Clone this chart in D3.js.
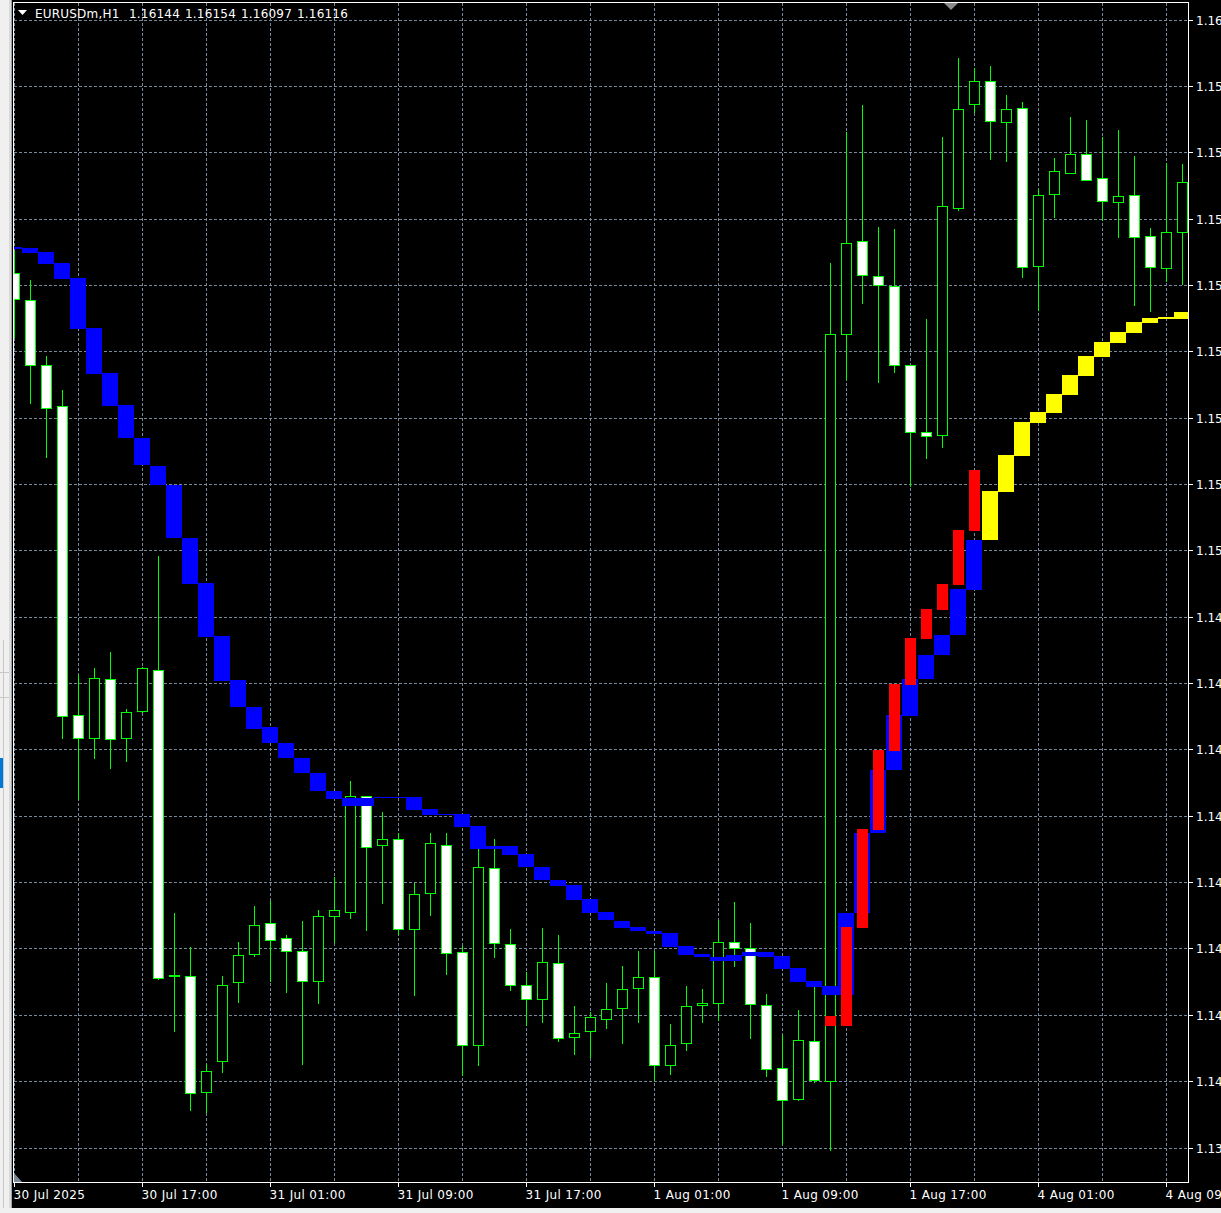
<!DOCTYPE html>
<html><head><meta charset="utf-8">
<script src="https://cdn.jsdelivr.net/npm/d3@7"></script>
<style>
html,body{margin:0;padding:0;background:#000;overflow:hidden;}
svg{display:block;font-family:"DejaVu Sans",sans-serif;}
</style></head><body>
<svg id="c" width="1221" height="1213"></svg>
<script>
// ---- data (EURUSDm, H1) ----
const titleSymbol = "EURUSDm,H1";
const titleQuotes = ["1.16144","1.16154","1.16097","1.16116"];

const open = [1.15522,1.15471,1.15350,1.15271,1.14689,1.14646,1.14757,1.14647,1.14697,1.14774,
1.14200,1.14199,1.13980,1.14038,1.14186,1.14239,1.14297,1.14269,1.14245,1.14188,
1.14311,1.14319,1.14537,1.14444,1.14457,1.14286,1.14354,1.14444,1.14243,1.14068,
1.14401,1.14258,1.14181,1.14154,1.14222,1.14083,1.14094,1.14118,1.14137,1.14175,
1.14196,1.14030,1.14071,1.14143,1.14147,1.14262,1.14251,1.14143,1.14024,1.13966,
1.14076,1.14001,1.15408,1.15583,1.15517,1.15498,1.15349,1.15223,1.15217,1.15645,
1.15840,1.15884,1.15806,1.15833,1.15536,1.15672,1.15711,1.15746,1.15701,1.15657,
1.15669,1.15593,1.15532,1.15600];

const high = [1.15564,1.15509,1.15366,1.15302,1.14766,1.14778,1.14808,1.14701,1.14780,1.14989,
1.14317,1.14253,1.14032,1.14199,1.14262,1.14330,1.14339,1.14275,1.14302,1.14322,
1.14384,1.14565,1.14538,1.14507,1.14467,1.14373,1.14467,1.14467,1.14255,1.14437,
1.14456,1.14287,1.14206,1.14288,1.14275,1.14142,1.14131,1.14185,1.14217,1.14245,
1.14246,1.14108,1.14179,1.14174,1.14304,1.14337,1.14298,1.14164,1.14086,1.14134,
1.14177,1.15542,1.15788,1.15839,1.15609,1.15605,1.15349,1.15436,1.15778,1.15927,
1.15908,1.15912,1.15858,1.15845,1.15680,1.15739,1.15816,1.15811,1.15779,1.15792,
1.15743,1.15607,1.15729,1.15727];

const low = [1.15402,1.15278,1.15176,1.14647,1.14532,1.14609,1.14590,1.14604,1.14696,1.14192,
1.14095,1.13946,1.13942,1.14018,1.14150,1.14236,1.14189,1.14167,1.14032,1.14148,
1.14262,1.14308,1.14285,1.14336,1.14277,1.14162,1.14313,1.14202,1.14012,1.14031,
1.14234,1.14172,1.14106,1.14112,1.14076,1.14052,1.14046,1.14101,1.14072,1.14112,
1.14003,1.14014,1.14059,1.14112,1.14116,1.14216,1.14082,1.14010,1.13881,1.13965,
1.13999,1.13871,1.15322,1.15465,1.15318,1.15336,1.15122,1.15173,1.15194,1.15642,
1.15825,1.15738,1.15734,1.15514,1.15453,1.15628,1.15711,1.15698,1.15622,1.15591,
1.15462,1.15450,1.15508,1.15502];

const close = [1.15473,1.15349,1.15268,1.14687,1.14647,1.14759,1.14644,1.14695,1.14778,1.14195,
1.14198,1.13978,1.14020,1.14182,1.14237,1.14295,1.14265,1.14246,1.14189,1.14312,
1.14322,1.14538,1.14442,1.14456,1.14286,1.14352,1.14448,1.14241,1.14069,1.14403,
1.14260,1.14182,1.14154,1.14224,1.14081,1.14091,1.14120,1.14135,1.14173,1.14197,
1.14030,1.14069,1.14141,1.14147,1.14262,1.14251,1.14145,1.14022,1.13964,1.14077,
1.14002,1.15407,1.15579,1.15518,1.15499,1.15350,1.15222,1.15215,1.15649,1.15831,
1.15884,1.15808,1.15831,1.15534,1.15669,1.15714,1.15747,1.15698,1.15659,1.15667,
1.15591,1.15534,1.15599,1.15693];

// indicator band (wide histogram blocks)
const bandHi = [1.15572,1.15570,1.15562,1.15541,1.15513,1.15419,1.15334,1.15274,1.15212,1.15159,
1.15123,1.15023,1.14938,1.14839,1.14756,1.14705,1.14667,1.14637,1.14609,1.14580,
1.14547,1.14533,1.14533,1.14535,1.14535,1.14535,1.14513,1.14503,1.14503,1.14481,
1.14443,1.14443,1.14428,1.14403,1.14379,1.14369,1.14343,1.14319,1.14302,1.14290,
1.14283,1.14279,1.14255,1.14240,1.14234,1.14238,1.14243,1.14243,1.14236,1.14213,
1.14189,1.14179,1.14317,1.14467,1.14586,1.14690,1.14758,1.14803,1.14840,1.14927,
1.15019,1.15112,1.15180,1.15242,1.15261,1.15294,1.15330,1.15366,1.15392,1.15411,
1.15430,1.15438,1.15439,1.15449];
const bandLo = [1.15567,1.15560,1.15540,1.15511,1.15417,1.15333,1.15272,1.15212,1.15161,1.15123,
1.15023,1.14937,1.14837,1.14754,1.14704,1.14664,1.14637,1.14609,1.14580,1.14546,
1.14532,1.14519,1.14519,1.14533,1.14533,1.14511,1.14501,1.14501,1.14479,1.14437,
1.14437,1.14426,1.14403,1.14379,1.14368,1.14342,1.14317,1.14303,1.14289,1.14282,
1.14277,1.14253,1.14238,1.14233,1.14226,1.14226,1.14236,1.14234,1.14211,1.14187,
1.14178,1.14162,1.14162,1.14317,1.14467,1.14586,1.14688,1.14757,1.14803,1.14840,
1.14926,1.15019,1.15110,1.15178,1.15240,1.15259,1.15293,1.15328,1.15364,1.15391,
1.15409,1.15428,1.15436,1.15436];
const bandTrend = ["dn","dn","dn","dn","dn","dn","dn","dn","dn","dn",
"dn","dn","dn","dn","dn","dn","dn","dn","dn","dn",
"dn","dn","dn","dn","dn","dn","dn","dn","dn","dn",
"dn","dn","dn","dn","dn","dn","dn","dn","dn","dn",
"dn","dn","dn","dn","dn","dn","dn","dn","dn","dn",
"dn","dn","dn","dn","dn","dn","dn","dn","dn","dn",
"dn","up","up","up","up","up","up","up","up","up",
"up","up","up","up"];

// signal blocks (narrow, red)
const sigHi = [null,null,null,null,null,null,null,null,null,null,
null,null,null,null,null,null,null,null,null,null,
null,null,null,null,null,null,null,null,null,null,
null,null,null,null,null,null,null,null,null,null,
null,null,null,null,null,null,null,null,null,null,
null,1.14123,1.14290,1.14475,1.14624,1.14749,1.14835,1.14889,1.14937,1.15038,
1.15152,null,null,null,null,null,null,null,null,null,
null,null,null,null];
const sigLo = [null,null,null,null,null,null,null,null,null,null,
null,null,null,null,null,null,null,null,null,null,
null,null,null,null,null,null,null,null,null,null,
null,null,null,null,null,null,null,null,null,null,
null,null,null,null,null,null,null,null,null,null,
null,1.14103,1.14103,1.14289,1.14473,1.14622,1.14746,1.14833,1.14888,1.14935,
1.15037,null,null,null,null,null,null,null,null,null,
null,null,null,null];

const priceTicks = [1.16000,1.15875,1.15750,1.15625,1.15500,1.15375,1.15250,1.15125,1.15000,
1.14875,1.14750,1.14625,1.14500,1.14375,1.14250,1.14125,1.14000,1.13875];

const timeTickBars = [0,8,16,24,32,40,48,56,64,72];
const timeTickLabels = ["30 Jul 2025","30 Jul 17:00","31 Jul 01:00","31 Jul 09:00","31 Jul 17:00",
"1 Aug 01:00","1 Aug 09:00","1 Aug 17:00","4 Aug 01:00","4 Aug 09:00"];

// ---- drawing ----
const svg = d3.select("#c");
const W = 1221, H = 1213;
const plot = {left:13, right:1188, top:2, bottom:1182};
const N = open.length;

const x = d3.scaleLinear().domain([0, N-1]).range([14, 14 + 16*(N-1)]);
const y = d3.scaleLinear().domain([1.13875, 1.16]).range([1147.5, 19.5]);
const ry = v => Math.round(y(v));

svg.append("defs").append("clipPath").attr("id","plotClip")
  .append("rect").attr("x",plot.left+1).attr("y",plot.top+1)
  .attr("width",plot.right-plot.left-1).attr("height",plot.bottom-plot.top-1);

svg.append("rect").attr("width",W).attr("height",H).attr("fill","#000");

// window chrome (left panel strip and bottom strip)
svg.append("rect").attr("x",0).attr("y",0).attr("width",9).attr("height",H).attr("fill","#f0f0f0");
svg.append("rect").attr("x",9).attr("y",0).attr("width",2).attr("height",H).attr("fill","#dadada");
svg.append("rect").attr("x",11).attr("y",0).attr("width",1).attr("height",H).attr("fill","#a0a0a0");
svg.append("line").attr("x1",3.5).attr("x2",3.5).attr("y1",640).attr("y2",1208).attr("stroke","#c8c8c8");
svg.append("line").attr("x1",0).attr("x2",9).attr("y1",672.5).attr("y2",672.5).attr("stroke","#c8c8c8");
svg.append("line").attr("x1",0).attr("x2",9).attr("y1",697.5).attr("y2",697.5).attr("stroke","#c8c8c8");
svg.append("rect").attr("x",0).attr("y",758).attr("width",3).attr("height",30).attr("fill","#0078d7");
svg.append("rect").attr("x",0).attr("y",1208).attr("width",W).attr("height",5).attr("fill","#f0f0f0");

const g = svg.append("g").attr("shape-rendering","crispEdges");
const gridColor = "#778899";
const pg = g.append("g").attr("clip-path","url(#plotClip)");

// horizontal grid
pg.append("g").selectAll("line").data(priceTicks).join("line")
  .attr("x1",plot.left+1).attr("x2",plot.right)
  .attr("y1",d=>ry(d)+0.5).attr("y2",d=>ry(d)+0.5)
  .attr("stroke",gridColor).attr("stroke-dasharray","3,2");

// vertical grid every 4 bars
const vBars = d3.range(0, N, 4);
pg.append("g").selectAll("line").data(vBars).join("line")
  .attr("x1",d=>x(d)+0.5).attr("x2",d=>x(d)+0.5)
  .attr("y1",plot.top+1).attr("y2",plot.bottom)
  .attr("stroke",gridColor).attr("stroke-dasharray","3,2");

// candles
const idx = d3.range(N);
const cg = pg.append("g");
cg.selectAll("line.wick").data(idx).join("line").attr("class","wick")
  .attr("x1",i=>x(i)+0.5).attr("x2",i=>x(i)+0.5)
  .attr("y1",i=>ry(high[i])).attr("y2",i=>ry(low[i])+1)
  .attr("stroke","#00ff00");
cg.selectAll("rect.body").data(idx).join("rect").attr("class","body")
  .attr("x",i=>x(i)-4.5).attr("width",10)
  .attr("y",i=>ry(Math.max(open[i],close[i]))+0.5)
  .attr("height",i=>Math.max(1, ry(Math.min(open[i],close[i])) - ry(Math.max(open[i],close[i]))))
  .attr("fill",i=>close[i] > open[i] ? "#000000" : "#ffffff")
  .attr("stroke","#00ff00");

// indicator band blocks
const bandColor = {dn:"#0000ff", up:"#ffff00"};
pg.append("g").selectAll("rect").data(idx).join("rect")
  .attr("x",i=>x(i)-8).attr("width",16)
  .attr("y",i=>ry(bandHi[i]))
  .attr("height",i=>Math.max(1, ry(bandLo[i]) - ry(bandHi[i])))
  .attr("fill",i=>bandColor[bandTrend[i]]);

// signal blocks
const sIdx = idx.filter(i=>sigHi[i] !== null);
pg.append("g").selectAll("rect").data(sIdx).join("rect")
  .attr("x",i=>x(i)-5).attr("width",11)
  .attr("y",i=>ry(sigHi[i]))
  .attr("height",i=>Math.max(1, ry(sigLo[i]) - ry(sigHi[i])))
  .attr("fill","#ff0000");

svg.append("rect").attr("x",12).attr("y",0).attr("width",1).attr("height",1208).attr("fill","#000");

// frame
g.append("rect").attr("x",plot.left+0.5).attr("y",plot.top+0.5)
  .attr("width",plot.right-plot.left).attr("height",plot.bottom-plot.top)
  .attr("fill","none").attr("stroke","#ffffff");

// price axis ticks + labels
g.append("g").selectAll("line").data(priceTicks).join("line")
  .attr("x1",plot.right+1).attr("x2",plot.right+5)
  .attr("y1",d=>ry(d)+0.5).attr("y2",d=>ry(d)+0.5).attr("stroke","#ffffff");
svg.append("g").selectAll("text").data(priceTicks).join("text")
  .attr("x",1196).attr("y",d=>ry(d)+5)
  .attr("fill","#ffffff").attr("font-size",12)
  .text(d=>d.toFixed(5));

// time axis ticks + labels
g.append("g").selectAll("line").data(timeTickBars).join("line")
  .attr("x1",d=>x(d)+0.5).attr("x2",d=>x(d)+0.5)
  .attr("y1",plot.bottom+1).attr("y2",plot.bottom+5).attr("stroke","#ffffff");
svg.append("g").selectAll("text").data(timeTickBars).join("text")
  .attr("x",d=>x(d)-0.5).attr("y",1199)
  .attr("fill","#ffffff").attr("font-size",12).attr("letter-spacing","0.35")
  .text((d,k)=>timeTickLabels[k]);

// corner markers
svg.append("polygon").attr("points","14,1173 14,1182 22,1182").attr("fill","#7d8a99");
svg.append("polygon").attr("points","944,3 958,3 951,10").attr("fill","#8a8a8a");

// title
svg.append("polygon").attr("points","18,10 27,10 22.5,15").attr("fill","#ffffff");
const tt = svg.append("text").attr("y",18).attr("fill","#ffffff").attr("font-size",12);
tt.append("tspan").attr("x",35).attr("letter-spacing","0.2").text(titleSymbol);
const quoteX = [129,185,241,297];
titleQuotes.forEach((q,k)=>tt.append("tspan").attr("x",quoteX[k]).attr("letter-spacing","0.2").text(q));
</script></body></html>
